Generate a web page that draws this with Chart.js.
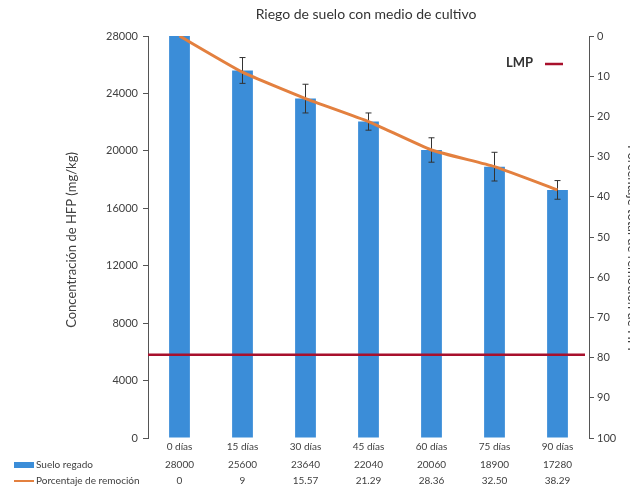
<!DOCTYPE html>
<html>
<head>
<meta charset="utf-8">
<script src="https://cdn.jsdelivr.net/npm/chart.js@4/dist/chart.umd.min.js"></script>
<style>
  html, body { margin: 0; padding: 0; background: #fff; }
  #wrap { width: 630px; height: 487px; }
</style>
</head>
<body>
<div id="wrap"><canvas id="chart" width="630" height="487"></canvas></div>
<script>
const CATEGORIES = ['0 días', '15 días', '30 días', '45 días', '60 días', '75 días', '90 días'];
const SUELO_REGADO = [28000, 25600, 23640, 22040, 20060, 18900, 17280];
const SUELO_ERR = [0, 900, 1000, 600, 850, 1000, 650];
const REMOCION = [0, 9, 15.57, 21.29, 28.36, 32.50, 38.29];
const LMP = 5800;
const LEFT_TICKS = [0, 4000, 8000, 12000, 16000, 20000, 24000, 28000];
const RIGHT_TICKS = [0, 10, 20, 30, 40, 50, 60, 70, 80, 90, 100];

const FONT = 'Lato, "Open Sans", sans-serif';
const TXT = '#404040';
const BLUE = '#3b8dd8';
const ORANGE = '#e3803f';
const RED = '#a8102c';

const fmtPct = v => Number.isInteger(v) ? String(v) : v.toFixed(2);

// titulo, ejes, LMP, barras de error y tabla de datos
const extras = {
    id: 'extras',
    afterDatasetDraw(chart, args) {
        if (args.index !== 0) return;
        const { ctx, scales: { x, y } } = chart;
        ctx.save();
        ctx.strokeStyle = '#333';
        ctx.lineWidth = 1;
        SUELO_REGADO.forEach((v, i) => {
            const e = SUELO_ERR[i];
            if (!e) return;
            const px = x.getPixelForValue(i);
            const top = y.getPixelForValue(v + e), bot = y.getPixelForValue(v - e);
            ctx.beginPath();
            ctx.moveTo(px, top); ctx.lineTo(px, bot);
            ctx.moveTo(px - 3, top); ctx.lineTo(px + 3, top);
            ctx.moveTo(px - 3, bot); ctx.lineTo(px + 3, bot);
            ctx.stroke();
        });
        ctx.restore();
    },
    afterDatasetsDraw(chart) {
        const { ctx, chartArea: a, scales: { x, y } } = chart;
        ctx.save();
        // LMP
        const ly = y.getPixelForValue(LMP);
        ctx.strokeStyle = RED; ctx.lineWidth = 2.5;
        ctx.beginPath(); ctx.moveTo(a.left, ly); ctx.lineTo(a.right - 4, ly); ctx.stroke();
        ctx.font = 'bold 13px ' + FONT; ctx.fillStyle = '#333';
        ctx.textAlign = 'left'; ctx.textBaseline = 'middle';
        ctx.fillText('LMP', 506, 63);
        ctx.beginPath(); ctx.moveTo(545, 64); ctx.lineTo(563, 64); ctx.stroke();

        // titulo
        ctx.fillStyle = '#333';
        ctx.font = '14px ' + FONT; ctx.textAlign = 'center';
        ctx.fillText('Riego de suelo con medio de cultivo', 366, 14);

        // titulos de ejes
        ctx.font = '13px ' + FONT; ctx.fillStyle = TXT;
        ctx.save(); ctx.translate(72, 240); ctx.rotate(-Math.PI / 2);
        ctx.fillText('Concentración de HFP (mg/kg)', 0, 0); ctx.restore();
        ctx.save(); ctx.translate(632, 250); ctx.rotate(Math.PI / 2);
        ctx.fillText('Porcentaje total de remoción de HFP', 0, 0); ctx.restore();

        // tabla de datos
        ctx.font = '10px ' + FONT; ctx.fillStyle = TXT;
        CATEGORIES.forEach((c, i) => {
            const px = x.getPixelForValue(i);
            ctx.fillText(String(SUELO_REGADO[i]), px, 465);
            ctx.fillText(fmtPct(REMOCION[i]), px, 481);
        });
        ctx.textAlign = 'left';
        ctx.fillText('Suelo regado', 36, 465);
        ctx.fillText('Porcentaje de remoción', 36, 481);
        ctx.fillStyle = BLUE; ctx.fillRect(14, 462, 20, 6);
        ctx.strokeStyle = ORANGE; ctx.lineWidth = 2;
        ctx.beginPath(); ctx.moveTo(14, 481); ctx.lineTo(34, 481); ctx.stroke();
        ctx.restore();
    }
};

new Chart(document.getElementById('chart'), {
    data: {
        labels: CATEGORIES,
        datasets: [
            { type: 'bar', label: 'Suelo regado', data: SUELO_REGADO, backgroundColor: BLUE, yAxisID: 'y', order: 2,
              barPercentage: 0.33, categoryPercentage: 1 },
            { type: 'line', label: 'Porcentaje de remoción', data: REMOCION, borderColor: ORANGE, borderWidth: 3,
              pointRadius: 0, tension: 0.15, yAxisID: 'y1', order: 1 },
        ],
    },
    options: {
        responsive: false, animation: false,
        layout: { padding: { top: 36, left: 0, right: 0, bottom: 0 } },
        plugins: { legend: { display: false }, tooltip: { enabled: false } },
        scales: {
            x: {
                grid: { display: false, drawTicks: false },
                border: { display: false },
                ticks: { color: TXT, font: { family: FONT, size: 10 }, padding: 3, maxRotation: 0 },
                afterFit(s) { s.height = 49; },
            },
            y: {
                position: 'left', min: 0, max: 28000,
                afterBuildTicks(s) { s.ticks = LEFT_TICKS.map(v => ({ value: v })); },
                grid: { drawOnChartArea: false, tickLength: 5, color: '#555' },
                border: { color: '#555', width: 1 },
                ticks: { color: TXT, font: { family: FONT, size: 11 }, padding: 5, callback: v => String(v) },
                afterFit(s) { s.width = 148; },
            },
            y1: {
                position: 'right', min: 0, max: 100, reverse: true,
                afterBuildTicks(s) { s.ticks = RIGHT_TICKS.map(v => ({ value: v })); },
                grid: { drawOnChartArea: false, tickLength: 5, color: '#555' },
                border: { color: '#555', width: 1 },
                ticks: { color: TXT, font: { family: FONT, size: 11 }, padding: 3, callback: v => String(v) },
                afterFit(s) { s.width = 41; },
            },
        },
    },
    plugins: [extras],
});
</script>
</body>
</html>
